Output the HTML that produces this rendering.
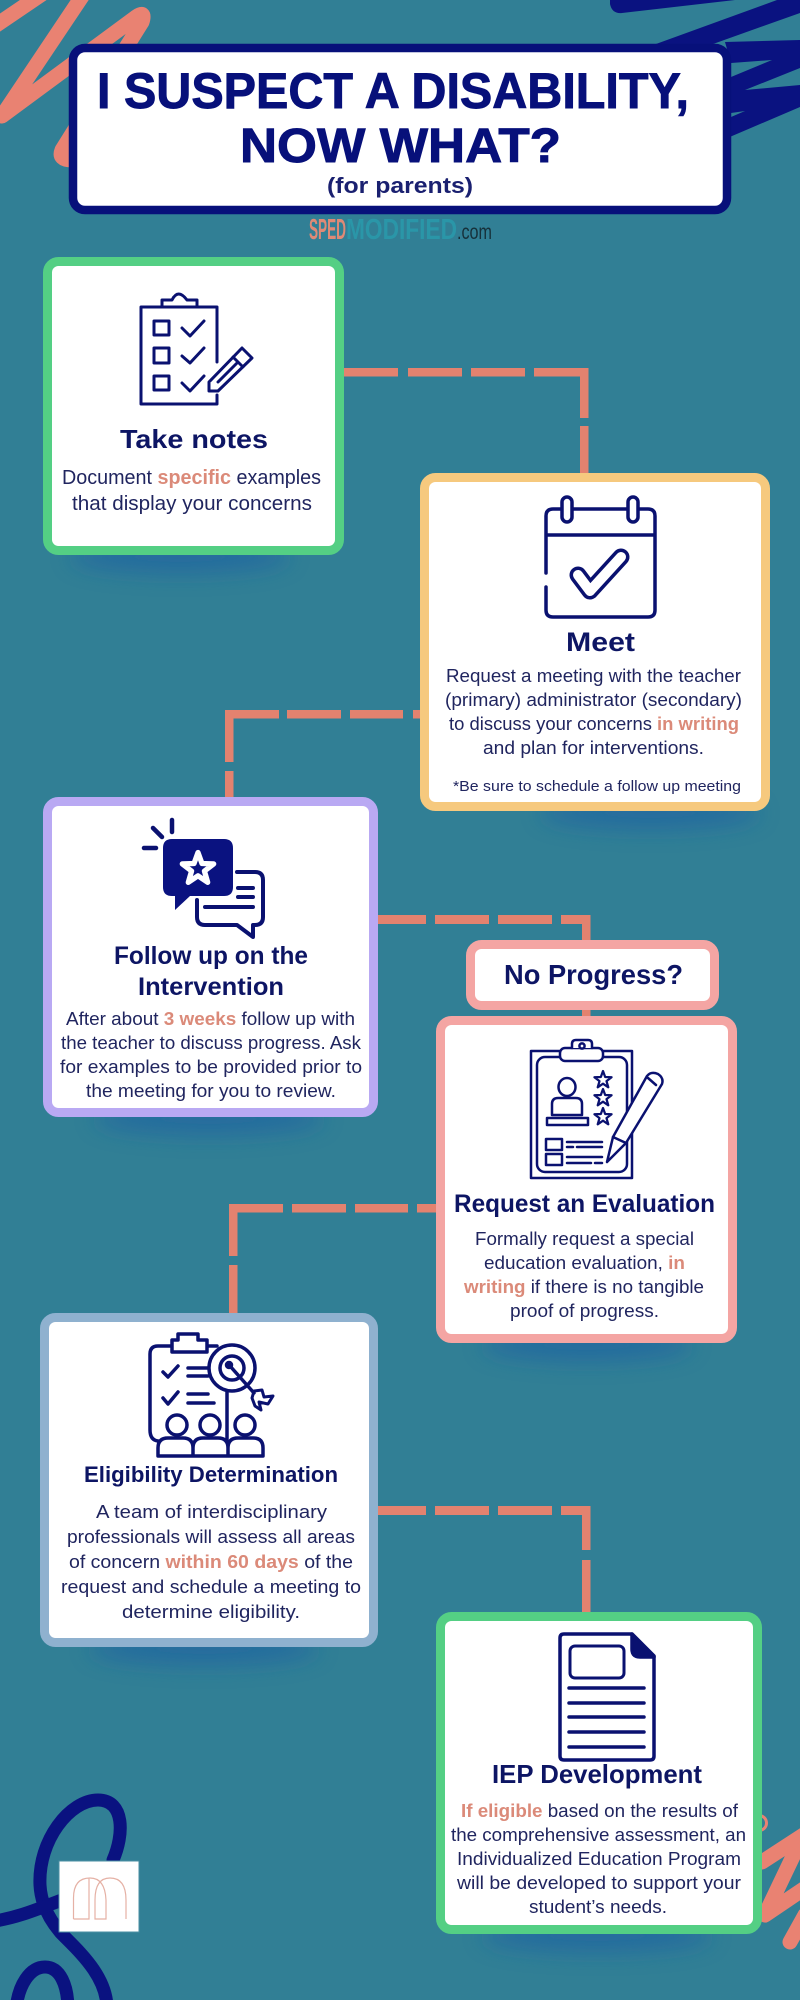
<!DOCTYPE html>
<html><head><meta charset="utf-8"><title>I Suspect a Disability, Now What?</title>
<style>
html,body{margin:0;padding:0;width:800px;height:2000px;overflow:hidden;background:#317f95}
svg{display:block}
text{font-family:"Liberation Sans",sans-serif}
.t{font-weight:700;fill:#07107a;stroke:#07107a;stroke-width:.9}
.h{font-weight:700;fill:#0d1564}
.b{font-size:18.5px;fill:#20255f}
.b tspan{font-weight:700;fill:#db8a79}
.i{fill:none;stroke:#0a1170;stroke-linecap:round;stroke-linejoin:round}
</style></head><body>
<svg xmlns="http://www.w3.org/2000/svg" width="800" height="2000" viewBox="0 0 800 2000">
<defs>
<filter id="bl" x="-40%" y="-150%" width="180%" height="400%"><feGaussianBlur stdDeviation="11"/></filter>
<polygon id="st" points="0,-10 2.41,-3.32 9.51,-3.09 3.9,1.27 5.88,8.09 0,4.1 -5.88,8.09 -3.9,1.27 -9.51,-3.09 -2.41,-3.32"/>
</defs>
<rect width="800" height="2000" fill="#317f95"/>

<!-- scribbles -->
<g fill="none" stroke="#e98272" stroke-width="15" stroke-linecap="round" stroke-linejoin="round">
<path d="M-5 26L42 -6"/>
<path d="M85 -8L2 116L136 17Q146 10 142 22L62 150Q58 160 72 160"/>
<path d="M762 1862L805 1834M797 1848L765 1915L805 1888M805 1915L790 1942"/>
<circle cx="759" cy="1823" r="1.5"/>
</g>
<g fill="#0a1280">
<path d="M610 0H735L622 13Q612 14 610 4Z"/>
<polygon points="656,44 777,0 800,0 800,13 713,44"/>
<polygon points="725,42 800,40 800,68 745,90 800,85 800,107 725,139 731,117 745,111 731,113 731,77 772,60 731,63"/>
</g>
<g fill="none" stroke="#0a1280" stroke-width="13" stroke-linecap="round">
<path d="M113 1860C124 1835 125 1800 98 1800C70 1800 38 1840 40 1885C41 1905 50 1920 60 1932C75 1948 108 1975 107 2010"/>
<path d="M-5 1921C20 1917 40 1908 62 1900"/>
<path d="M16 2010C18 1985 30 1967 45 1967C60 1967 68 1985 68 2010"/>
</g>

<!-- logo -->
<rect x="59" y="1861" width="80" height="71" fill="#fff" stroke="#4a8fa3" stroke-width="1"/>
<path d="M73.5 1919V1898Q73.5 1878 90 1878Q105 1878 106 1900V1919H95V1900Q95 1878 110 1878Q126 1878 126 1900V1919M73.5 1919H89V1878" fill="none" stroke="#e5b1a5" stroke-width="1.2"/>

<!-- shadows -->
<g fill="#1f5fa5" opacity=".6" filter="url(#bl)">
<ellipse cx="180" cy="557" rx="110" ry="16"/>
<ellipse cx="650" cy="813" rx="110" ry="16"/>
<ellipse cx="209" cy="1119" rx="115" ry="16"/>
<ellipse cx="587" cy="1345" rx="105" ry="16"/>
<ellipse cx="204" cy="1649" rx="115" ry="16"/>
<ellipse cx="597" cy="1936" rx="115" ry="16"/>
</g>

<!-- connectors -->
<g fill="#e3826f">
<rect x="344" y="368" width="54" height="8.5"/><rect x="408" y="368" width="54" height="8.5"/><rect x="471" y="368" width="54" height="8.5"/><rect x="534" y="368" width="54" height="8.5"/>
<rect x="580" y="368" width="8.5" height="50"/><rect x="580" y="426" width="8.5" height="48"/>
<rect x="225" y="710" width="54" height="8.5"/><rect x="287" y="710" width="54" height="8.5"/><rect x="350" y="710" width="53" height="8.5"/><rect x="413" y="710" width="8" height="8.5"/>
<rect x="225" y="710" width="8.5" height="52"/><rect x="225" y="771" width="8.5" height="27"/>
<rect x="378" y="915" width="48" height="9"/><rect x="435" y="915" width="54" height="9"/><rect x="498" y="915" width="54" height="9"/><rect x="561" y="915" width="29" height="9"/>
<rect x="582" y="915" width="8.5" height="26"/><rect x="582" y="1009" width="8.5" height="8"/>
<rect x="229" y="1204" width="54" height="8.5"/><rect x="292" y="1204" width="54" height="8.5"/><rect x="355" y="1204" width="53" height="8.5"/><rect x="417" y="1204" width="20" height="8.5"/>
<rect x="229" y="1204" width="8.5" height="52"/><rect x="229" y="1265" width="8.5" height="49"/>
<rect x="378" y="1506" width="48" height="9"/><rect x="435" y="1506" width="54" height="9"/><rect x="498" y="1506" width="54" height="9"/><rect x="561" y="1506" width="29" height="9"/>
<rect x="582" y="1506" width="8.5" height="44"/><rect x="582" y="1560" width="8.5" height="53"/>
</g>

<!-- title -->
<rect x="73" y="48" width="654" height="162" rx="12" fill="#fff" stroke="#07107a" stroke-width="8.5"/>
<text class="t" x="97" y="108" font-size="50" textLength="592" lengthAdjust="spacingAndGlyphs">I SUSPECT A DISABILITY,</text>
<text class="t" x="240" y="162" font-size="48" textLength="321" lengthAdjust="spacingAndGlyphs">NOW WHAT?</text>
<text x="327" y="193" font-size="22" font-weight="700" fill="#1a2070" textLength="146" lengthAdjust="spacingAndGlyphs">(for parents)</text>
<text x="309" y="239" font-size="29" font-weight="700" fill="#df8a76" textLength="37" lengthAdjust="spacingAndGlyphs">SPED</text>
<text x="346" y="239" font-size="29" font-weight="700" fill="#2a96a8" textLength="111" lengthAdjust="spacingAndGlyphs">MODIFIED</text>
<text x="457" y="239" font-size="21" fill="#16303a" textLength="35" lengthAdjust="spacingAndGlyphs">.com</text>

<!-- cards -->
<g fill="#fff" stroke-width="9">
<rect x="47.5" y="261.5" width="292" height="289" rx="11" stroke="#54cf84"/>
<rect x="424.5" y="477.5" width="341" height="329" rx="11" stroke="#f6c97e"/>
<rect x="47.5" y="801.5" width="326" height="311" rx="11" stroke="#b9a9f3"/>
<rect x="470.5" y="944.5" width="244" height="61" rx="11" stroke="#f4a5a3"/>
<rect x="440.5" y="1020.5" width="292" height="318" rx="11" stroke="#f4a5a3"/>
<rect x="44.5" y="1317.5" width="329" height="325" rx="11" stroke="#8fb1cf"/>
<rect x="440.5" y="1616.5" width="317" height="313" rx="11" stroke="#54cf84"/>
</g>

<!-- card 1 -->
<g class="i" stroke-width="3">
<path d="M217 362V307H141V404H217V395"/>
<path d="M162 307V300H172Q178 288 187 300H197V307"/>
<rect x="154" y="321" width="15" height="14"/><rect x="154" y="348" width="15" height="15"/><rect x="154" y="376" width="15" height="14"/>
<path d="M182 328L190 336L204 321M182 356L190 363L204 348M182 383L190 391L204 376"/>
<path d="M209 391V382L242 348L252 358L218 391ZM233 357L243 367M218 382L237 363"/>
</g>
<text class="h" x="120" y="448" font-size="26" textLength="148" lengthAdjust="spacingAndGlyphs">Take notes</text>
<text class="b" x="62" y="484" style="font-size:20px" textLength="259" lengthAdjust="spacingAndGlyphs">Document <tspan>specific</tspan> examples</text>
<text class="b" x="72" y="510" style="font-size:20px" textLength="240" lengthAdjust="spacingAndGlyphs">that display your concerns</text>

<!-- card 2 -->
<g class="i" stroke-width="3.5">
<path d="M546 573V516Q546 509 553 509H648Q655 509 655 516V610Q655 617 648 617H553Q546 617 546 610V587M546 535H655"/>
<rect x="562" y="497" width="10" height="25" rx="5" fill="#fff"/><rect x="628" y="497" width="10" height="25" rx="5" fill="#fff"/>
<path d="M578 575L590 591L621 557" stroke-width="17"/>
<path d="M578 575L590 591L621 557" stroke="#fff" stroke-width="10"/>
</g>
<text class="h" x="566" y="651" font-size="27" textLength="69" lengthAdjust="spacingAndGlyphs">Meet</text>
<text class="b" x="446" y="682" textLength="295" lengthAdjust="spacingAndGlyphs">Request a meeting with the teacher</text>
<text class="b" x="445" y="706" textLength="297" lengthAdjust="spacingAndGlyphs">(primary) administrator (secondary)</text>
<text class="b" x="449" y="730" textLength="290" lengthAdjust="spacingAndGlyphs">to discuss your concerns <tspan>in writing</tspan></text>
<text class="b" x="483" y="754" textLength="221" lengthAdjust="spacingAndGlyphs">and plan for interventions.</text>
<text class="b" x="453" y="791" style="font-size:15px" textLength="288" lengthAdjust="spacingAndGlyphs">*Be sure to schedule a follow up meeting</text>

<!-- card 3 -->
<path class="i" stroke-width="4.5" d="M172 820V832M153 828L162 837M144 848H156"/>
<path d="M172 839H224Q233 839 233 848V887Q233 896 224 896H190L175 910V896H172Q163 896 163 887V848Q163 839 172 839Z" fill="#0a1280"/>
<use href="#st" transform="translate(198 869) scale(1.65)" fill="#0a1280" stroke="#fff" stroke-width="3.2" stroke-linejoin="round"/>
<path class="i" stroke-width="4" d="M237 872H255Q263 872 263 880V917Q263 925 255 925H253V937L237 925H205Q197 925 197 917V900M238 888H253M238 897H253M205 907H253"/>
<text class="h" x="114" y="964" font-size="25" textLength="194" lengthAdjust="spacingAndGlyphs">Follow up on the</text>
<text class="h" x="138" y="995" font-size="25" textLength="146" lengthAdjust="spacingAndGlyphs">Intervention</text>
<text class="b" x="66" y="1025" textLength="289" lengthAdjust="spacingAndGlyphs">After about <tspan>3 weeks</tspan> follow up with</text>
<text class="b" x="61" y="1049" textLength="300" lengthAdjust="spacingAndGlyphs">the teacher to discuss progress. Ask</text>
<text class="b" x="60" y="1073" textLength="302" lengthAdjust="spacingAndGlyphs">for examples to be provided prior to</text>
<text class="b" x="86" y="1097" textLength="250" lengthAdjust="spacingAndGlyphs">the meeting for you to review.</text>

<text class="h" x="504" y="984" font-size="28" textLength="179" lengthAdjust="spacingAndGlyphs">No Progress?</text>

<!-- card 4 -->
<g class="i" stroke-width="2.5">
<rect x="531" y="1051" width="101" height="127"/>
<rect x="537" y="1057" width="90" height="115" rx="8"/>
<rect x="560" y="1048" width="43" height="13" rx="5" fill="#fff"/>
<path d="M572 1048V1044Q572 1040 576 1040H588Q592 1040 592 1044V1048" fill="#fff"/>
<circle cx="582" cy="1046" r="2.6"/>
<ellipse cx="567" cy="1087" rx="8.5" ry="9"/>
<path d="M552 1115V1104Q552 1098 558 1098H576Q582 1098 582 1104V1115Z"/>
<rect x="547" y="1118" width="41" height="7"/>
<use href="#st" transform="translate(603 1080) scale(.9)" fill="none"/>
<use href="#st" transform="translate(603 1098) scale(.9)" fill="none"/>
<use href="#st" transform="translate(603 1117) scale(.9)" fill="none"/>
<rect x="546" y="1139" width="16" height="11"/><rect x="546" y="1154" width="16" height="11"/>
<path d="M567 1142H602M567 1147H573M577 1147H602M567 1157H602M567 1163H591M595 1163H602"/>
<path d="M607 1162L613 1137L647 1076Q651 1071 658 1074Q664 1078 662 1084L626 1143Z" fill="#fff"/>
<path d="M613 1137L626 1143M648 1078L656 1085"/>
</g>
<text class="h" x="454" y="1212" font-size="25" textLength="261" lengthAdjust="spacingAndGlyphs">Request an Evaluation</text>
<text class="b" x="475" y="1245" textLength="219" lengthAdjust="spacingAndGlyphs">Formally request a special</text>
<text class="b" x="484" y="1269" textLength="201" lengthAdjust="spacingAndGlyphs">education evaluation, <tspan>in</tspan></text>
<text class="b" x="464" y="1293" textLength="240" lengthAdjust="spacingAndGlyphs"><tspan>writing</tspan> if there is no tangible</text>
<text class="b" x="510" y="1317" textLength="149" lengthAdjust="spacingAndGlyphs">proof of progress.</text>

<!-- card 5 -->
<g class="i" stroke-width="3.5">
<path d="M172 1346H158Q150 1346 150 1354V1430Q150 1440 158 1441M207 1346H217"/>
<path d="M172 1352V1340H178V1334H198V1340H207V1352Z" fill="#fff"/>
<path d="M227 1392V1447"/>
<circle cx="232" cy="1368" r="23" fill="#fff"/>
<circle cx="232" cy="1368" r="12"/>
<circle cx="229" cy="1365" r="2.5" fill="#0a1170"/>
<path d="M230 1366L254 1393"/>
<path d="M254 1391L262 1390L264 1397L273 1396L268 1404L259 1402L261 1410L255 1406L252 1398Z" stroke-width="3"/>
<path d="M163 1372L168 1377L178 1366M163 1398L168 1404L178 1392M188 1368H208M188 1376H208M188 1394H208M188 1403H214"/>
<circle cx="177" cy="1425" r="10" fill="#fff"/><circle cx="210" cy="1425" r="10" fill="#fff"/><circle cx="245" cy="1425" r="10" fill="#fff"/>
<path d="M158 1456V1448Q158 1438 168 1438H183Q193 1438 193 1448V1456ZM193 1456V1448Q193 1438 203 1438H218Q228 1438 228 1448V1456ZM228 1456V1448Q228 1438 238 1438H253Q263 1438 263 1448V1456Z" fill="#fff"/>
</g>
<text class="h" x="84" y="1482" font-size="22" textLength="254" lengthAdjust="spacingAndGlyphs">Eligibility Determination</text>
<text class="b" x="96" y="1518" textLength="231" lengthAdjust="spacingAndGlyphs">A team of interdisciplinary</text>
<text class="b" x="67" y="1543" textLength="288" lengthAdjust="spacingAndGlyphs">professionals will assess all areas</text>
<text class="b" x="69" y="1568" textLength="284" lengthAdjust="spacingAndGlyphs">of concern <tspan>within 60 days</tspan> of the</text>
<text class="b" x="61" y="1593" textLength="300" lengthAdjust="spacingAndGlyphs">request and schedule a meeting to</text>
<text class="b" x="122" y="1618" textLength="178" lengthAdjust="spacingAndGlyphs">determine eligibility.</text>

<!-- card 6 -->
<g class="i" stroke-width="3.5">
<path d="M632 1634H564Q560 1634 560 1638V1756Q560 1760 564 1760H650Q654 1760 654 1756V1656Z"/>
<path d="M632 1634L654 1656V1657H640Q632 1657 632 1649Z" fill="#0a1170"/>
<rect x="570" y="1646" width="54" height="32" rx="5" stroke-width="3"/>
<path d="M569 1688H644M569 1703H644M569 1717H644M569 1732H644M569 1747H644"/>
</g>
<text class="h" x="492" y="1783" font-size="26" textLength="210" lengthAdjust="spacingAndGlyphs">IEP Development</text>
<text class="b" x="461" y="1817" textLength="277" lengthAdjust="spacingAndGlyphs"><tspan>If eligible</tspan> based on the results of</text>
<text class="b" x="451" y="1841" textLength="295" lengthAdjust="spacingAndGlyphs">the comprehensive assessment, an</text>
<text class="b" x="457" y="1865" textLength="284" lengthAdjust="spacingAndGlyphs">Individualized Education Program</text>
<text class="b" x="457" y="1889" textLength="284" lengthAdjust="spacingAndGlyphs">will be developed to support your</text>
<text class="b" x="529" y="1913" textLength="138" lengthAdjust="spacingAndGlyphs">student’s needs.</text>
</svg>
</body></html>
